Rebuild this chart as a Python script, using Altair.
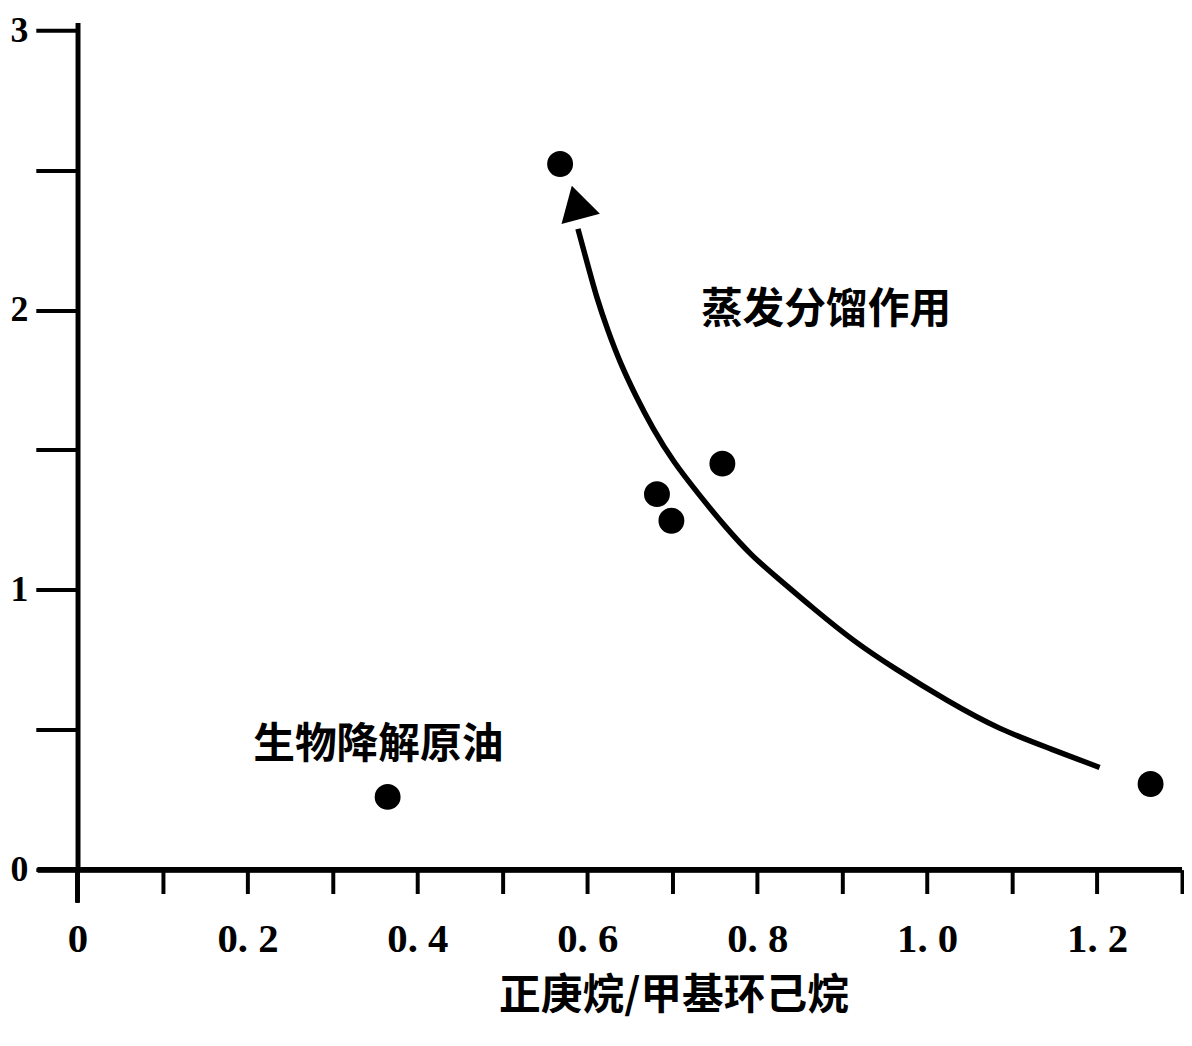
import altair as alt
import pandas as pd

# scatter points (正庚烷/甲基环己烷, y ratio)
pt_x = [0.365, 0.568, 0.682, 0.699, 0.759, 1.263]
pt_y = [0.260, 2.522, 1.342, 1.247, 1.451, 0.306]

# curved arrow path (from lower right to upper left)
curve_x = [1.203, 1.148, 1.086, 1.023, 0.961, 0.914, 0.867, 0.821, 0.794,
           0.762, 0.731, 0.701, 0.677, 0.657, 0.639, 0.624, 0.611, 0.600, 0.589]
curve_y = [0.365, 0.429, 0.499, 0.604, 0.720, 0.815, 0.931, 1.050, 1.120,
           1.226, 1.342, 1.458, 1.577, 1.693, 1.809, 1.928, 2.044, 2.167, 2.290]

# arrow head
head_x = [0.587]
head_y = [2.385]

# annotations
ann_text = ["蒸发分馏作用", "生物降解原油"]
ann_x = [0.881, 0.354]
ann_y = [1.999, 0.446]

x_ticks = [round(i * 0.1, 1) for i in range(14)]
y_ticks = [0, 0.5, 1, 1.5, 2, 2.5, 3]
x_title = "正庚烷/甲基环己烷"

W, H = 1112, 853
xs = alt.Scale(domain=[0, 1.3], nice=False, zero=False)
ys = alt.Scale(domain=[0, 3.028], nice=False, zero=False)

pts = pd.DataFrame({"x": pt_x, "y": pt_y})
curve = pd.DataFrame({"x": curve_x, "y": curve_y, "o": list(range(len(curve_x)))})
head = pd.DataFrame({"x": head_x, "y": head_y})
ann = pd.DataFrame({"t": ann_text, "x": ann_x, "y": ann_y})

x_axis = alt.Axis(
    values=x_ticks, tickSize=24, tickWidth=4, tickColor="black",
    domain=False, grid=False,
    labelExpr="datum.value == 0 ? '0' : (round(datum.value*10) % 2 == 0 ? replace(format(datum.value, '.1f'), '.', '. ') : '')",
    labelFont="Liberation Serif", labelFontSize=41, labelFontWeight="bold",
    labelColor="black",
    labelPadding=26, labelFlush=False, labelOverlap=False,
    title=x_title, titleFont="Noto Sans CJK SC", titleFontSize=42,
    titleFontWeight="bold", titleColor="black",
    titleX=600, titleY=127, titleBaseline="middle", titleAlign="center",
)
y_axis = alt.Axis(
    values=y_ticks, tickSize=42, tickWidth=4, tickColor="black",
    domain=True, domainWidth=5, domainColor="black", grid=False,
    labelExpr="datum.value % 1 == 0 ? format(datum.value, 'd') : ''",
    labelFont="Liberation Serif", labelFontSize=36, labelFontWeight="bold",
    labelColor="black",
    labelPadding=8, labelFlush=False, labelOverlap=False,
)


def X():
    return alt.X("x:Q", scale=xs, axis=x_axis, title=x_title)


def Y():
    return alt.Y("y:Q", scale=ys, axis=y_axis, title=None)


points = alt.Chart(pts).mark_circle(size=680, color="black", opacity=1).encode(
    x=X(), y=Y(),
)

line = alt.Chart(curve).mark_line(color="black", strokeWidth=5.5, interpolate="basis").encode(
    x=X(), y=Y(), order="o:Q",
)

arrow = alt.Chart(head).mark_point(
    shape="triangle-up", size=1600, filled=True, color="black", opacity=1, angle=345
).encode(
    x=X(), y=Y(),
)

texts = alt.Chart(ann).mark_text(
    font="Noto Sans CJK SC", fontSize=42, fontWeight="bold", color="black",
    align="center", baseline="middle"
).encode(
    x=X(), y=Y(), text="t:N",
)

x_line = alt.Chart(pts).mark_rule(color="black", strokeWidth=5).encode(
    x=alt.value(-40), x2=alt.value(W), y=alt.value(H)
)
zero_tick = alt.Chart(pts).mark_rule(color="black", strokeWidth=4).encode(
    x=alt.value(0), y=alt.value(H), y2=alt.value(H + 33)
)

chart = alt.layer(points, line, arrow, texts, x_line, zero_tick).properties(
    width=W, height=H,
    autosize=alt.AutoSizeParams(type="none"),
    padding={"left": 70, "top": 11, "right": 2, "bottom": 166},
    background="white",
).configure_view(stroke=None)

chart.save("out.html", embed_options={"renderer": "svg", "actions": False})
